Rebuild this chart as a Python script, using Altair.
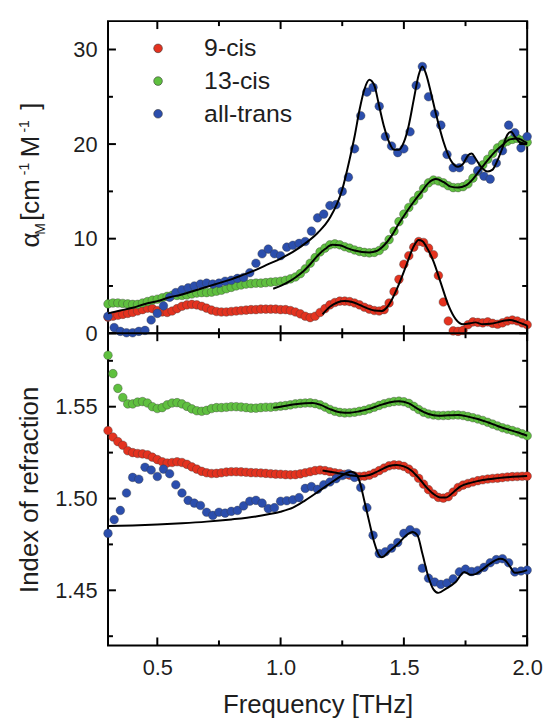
import altair as alt
import numpy as np
import pandas as pd

# sampling grids of the measured spectra (THz)
FREQ_FINE = np.round(np.arange(0.30, 2.0001, 0.02), 3)     # 9-cis, 13-cis
FREQ_COARSE = np.round(np.arange(0.30, 2.0001, 0.025), 3)  # all-trans

SERIES = ["9-cis", "13-cis", "all-trans"]
COLORS = ["#e4321f", "#5fc03f", "#2b4ead"]

# molar absorption coefficient [cm^-1 M^-1]
ABS_9CIS = [1.7, 1.8, 1.9, 2.0, 2.1, 2.2, 2.35, 2.5, 2.65, 2.6,
            2.4, 2.25, 2.2, 2.35, 2.6, 2.85, 3.0, 3.05, 3.0, 2.85,
            2.65, 2.45, 2.3, 2.25, 2.25, 2.3, 2.35, 2.4, 2.45, 2.5,
            2.5, 2.55, 2.55, 2.55, 2.55, 2.5, 2.5, 2.4, 2.25, 2.05,
            1.8, 1.65, 1.8, 2.2, 2.6, 3.0, 3.25, 3.4, 3.4, 3.35,
            3.2, 3.0, 2.75, 2.55, 2.4, 2.35, 2.5, 3.2, 4.4, 5.7,
            7.3, 8.2, 9.1, 9.7, 9.6, 9.0, 8.3, 6.1, 3.3, 1.3,
            0.25, 0.2, 0.3, 0.9, 1.2, 1.15, 1.1, 1.2, 1.05, 0.95,
            1.1, 1.3, 1.4, 1.3, 1.1, 0.9]
ABS_13CIS = [3.1, 3.2, 3.2, 3.15, 3.1, 3.05, 3.05, 3.2, 3.35, 3.5,
             3.6, 3.75, 3.9, 4.0, 4.0, 4.0, 4.05, 4.15, 4.25, 4.3,
             4.3, 4.35, 4.45, 4.55, 4.7, 4.85, 5.0, 5.1, 5.2, 5.25,
             5.3, 5.3, 5.35, 5.4, 5.45, 5.5, 5.6, 5.75, 5.95, 6.3,
             6.8, 7.4, 8.0, 8.6, 9.0, 9.35, 9.45, 9.35, 9.15, 9.0,
             8.8, 8.65, 8.55, 8.5, 8.55, 8.75, 9.2, 9.9, 10.8, 11.8,
             12.6, 13.3, 14.0, 14.6, 15.3, 15.9, 16.2, 16.1, 15.9, 15.6,
             15.4, 15.4, 15.5, 15.8, 16.4, 17.1, 17.8, 18.4, 19.0, 19.6,
             20.0, 20.3, 20.5, 20.6, 20.4, 20.2]
ABS_ALLTRANS = [1.8, 0.6, 0.2, 0.05, 0.05, 0.2, 0.3, 1.4, 2.1, 2.9,
                3.8, 4.3, 4.6, 4.8, 5.0, 5.2, 5.3, 5.2, 5.3, 5.5,
                5.6, 5.8, 5.9, 6.4, 7.4, 8.4, 8.9, 8.4, 8.2, 9.1,
                9.3, 9.5, 9.7, 10.8, 12.2, 12.6, 13.5, 13.6, 15.0, 16.5,
                19.5, 23.0, 25.5, 26.0, 24.0, 20.8, 19.8, 19.1, 19.5, 21.3,
                26.2, 28.2, 25.0, 23.2, 22.0, 18.9, 17.5, 17.5, 18.5, 18.3,
                17.2, 16.6, 16.3, 18.0, 19.3, 22.0, 21.2, 19.6, 20.8]

# index of refraction
IDX_9CIS = [1.537, 1.5335, 1.531, 1.529, 1.526, 1.525, 1.5245, 1.5243, 1.5238, 1.5225,
            1.5212, 1.5200, 1.5193, 1.5196, 1.5200, 1.5196, 1.5186, 1.5172, 1.5160, 1.5148,
            1.5140, 1.5136, 1.5137, 1.5140, 1.5144, 1.5146, 1.5146, 1.5145, 1.5143, 1.5141,
            1.5140, 1.5139, 1.5137, 1.5135, 1.5133, 1.5132, 1.5130, 1.5129, 1.5130, 1.5134,
            1.5140, 1.5146, 1.5152, 1.5155, 1.5152, 1.5146, 1.5140, 1.5136, 1.5131, 1.5127,
            1.5122, 1.5120, 1.5122, 1.5127, 1.5138, 1.5152, 1.5166, 1.5178, 1.5183, 1.5182,
            1.5175, 1.5160, 1.5140, 1.5110, 1.5078, 1.5048, 1.5024, 1.5006, 1.5002, 1.5010,
            1.5035, 1.5060, 1.5073, 1.5082, 1.5090, 1.5097, 1.5102, 1.5106, 1.5109, 1.5111,
            1.5114, 1.5117, 1.5119, 1.5120, 1.5121, 1.5122]
IDX_13CIS = [1.578, 1.568, 1.560, 1.555, 1.5515, 1.5515, 1.5525, 1.5528, 1.552, 1.550,
             1.549, 1.5495, 1.551, 1.552, 1.5522, 1.5515, 1.5502, 1.5488, 1.5478, 1.5475,
             1.548, 1.549, 1.5495, 1.5495, 1.5497, 1.550, 1.550, 1.5498, 1.5495, 1.5492,
             1.5492, 1.5495, 1.5497, 1.5497, 1.5500, 1.5503, 1.5506, 1.551, 1.5515, 1.5518,
             1.552, 1.5521, 1.5517, 1.551, 1.5498, 1.5485, 1.5475, 1.5469, 1.5466, 1.5467,
             1.547, 1.5475, 1.548, 1.5488, 1.5497, 1.5507, 1.5516, 1.5523, 1.5528, 1.5530,
             1.5527, 1.5518, 1.5502, 1.5485, 1.5470, 1.5460, 1.5455, 1.5452, 1.5452, 1.5453,
             1.5455, 1.5455, 1.5452, 1.5446, 1.5440, 1.5433, 1.5425, 1.5415, 1.5405, 1.5395,
             1.5385, 1.5378, 1.5370, 1.5362, 1.5352, 1.5342]
IDX_ALLTRANS = [1.481, 1.4885, 1.4935, 1.5030, 1.5115, 1.5105, 1.5170, 1.5155, 1.5120, 1.5160,
                1.5135, 1.5075, 1.5030, 1.4990, 1.4975, 1.4962, 1.4925, 1.4908, 1.4925, 1.4920,
                1.4930, 1.4935, 1.4960, 1.4985, 1.4990, 1.4975, 1.4945, 1.4950, 1.4985, 1.4988,
                1.4993, 1.5005, 1.5055, 1.5065, 1.5050, 1.5075, 1.5090, 1.5108, 1.5125, 1.5135,
                1.5115, 1.5060, 1.4950, 1.4800, 1.4700, 1.4710, 1.4730, 1.4760, 1.4810, 1.4830,
                1.4815, 1.4620, 1.4566, 1.4545, 1.4532, 1.4540, 1.4562, 1.4600, 1.4615, 1.4602,
                1.4608, 1.4625, 1.4650, 1.4667, 1.4672, 1.4650, 1.4600, 1.4605, 1.4610]

# model fits (frequency, value)
FIT_ABS_9CIS_F = [1.17, 1.20, 1.23, 1.26, 1.29, 1.32, 1.35, 1.38, 1.41, 1.43,
                  1.45, 1.48, 1.51, 1.54, 1.56, 1.575, 1.59, 1.62, 1.65, 1.68,
                  1.71, 1.74, 1.77, 1.79, 1.82, 1.85, 1.88, 1.91, 1.93, 1.96, 2.00]
FIT_ABS_9CIS_V = [2.0, 2.8, 3.25, 3.4, 3.3, 3.0, 2.65, 2.4, 2.35, 2.7,
                  3.5, 5.2, 7.2, 9.2, 9.85, 9.75, 9.2, 7.6, 5.3, 3.0,
                  1.5, 0.95, 1.05, 1.15, 0.95, 1.0, 1.15, 1.35, 1.4, 1.2, 0.8]
FIT_ABS_13CIS_F = [0.97, 1.00, 1.03, 1.06, 1.09, 1.12, 1.15, 1.18, 1.21, 1.24,
                   1.27, 1.30, 1.33, 1.36, 1.39, 1.42, 1.45, 1.48, 1.51, 1.54,
                   1.57, 1.60, 1.63, 1.66, 1.69, 1.72, 1.75, 1.78, 1.81, 1.84,
                   1.87, 1.90, 1.93, 1.96, 1.98, 2.00]
FIT_ABS_13CIS_V = [4.7, 5.0, 5.4, 5.9, 6.5, 7.3, 8.2, 8.9, 9.35, 9.3,
                   9.0, 8.75, 8.6, 8.55, 8.7, 9.3, 10.3, 11.6, 12.8, 13.9,
                   14.9, 15.9, 16.3, 16.0, 15.5, 15.4, 15.6, 16.3, 17.3, 18.3,
                   19.2, 19.9, 20.5, 20.6, 20.4, 20.1]
FIT_ABS_ALLTRANS_F = [0.30, 0.35, 0.40, 0.45, 0.50, 0.55, 0.60, 0.65, 0.70, 0.75,
                      0.80, 0.85, 0.90, 0.95, 1.00, 1.05, 1.10, 1.15, 1.20, 1.25,
                      1.28, 1.30, 1.32, 1.34, 1.36, 1.38, 1.40, 1.42, 1.44, 1.46,
                      1.48, 1.50, 1.52, 1.54, 1.56, 1.575, 1.59, 1.61, 1.63, 1.66,
                      1.69, 1.72, 1.74, 1.76, 1.775, 1.79, 1.81, 1.84, 1.86, 1.88,
                      1.90, 1.92, 1.935, 1.95, 1.97, 2.00]
FIT_ABS_ALLTRANS_V = [2.1, 2.4, 2.7, 3.1, 3.4, 3.8, 4.1, 4.5, 4.9, 5.3,
                      5.7, 6.2, 6.7, 7.3, 7.9, 8.6, 9.5, 10.6, 12.2, 15.2,
                      18.4, 20.8, 23.6, 25.8, 26.8, 26.2, 24.0, 21.8, 20.2, 19.4,
                      19.4, 20.2, 22.0, 24.7, 27.3, 28.2, 27.4, 25.4, 23.2, 20.3,
                      18.3, 17.6, 17.9, 18.8, 19.0, 18.5, 17.7, 17.1, 17.3, 18.3,
                      19.6, 21.0, 21.3, 20.8, 20.2, 20.0]

FIT_IDX_9CIS_F = [1.17, 1.20, 1.24, 1.28, 1.32, 1.36, 1.40, 1.44, 1.47, 1.50,
                  1.53, 1.56, 1.59, 1.62, 1.65, 1.67, 1.70, 1.73, 1.77, 1.82,
                  1.88, 1.94, 2.00]
FIT_IDX_9CIS_V = [1.5153, 1.5146, 1.5136, 1.5127, 1.5121, 1.5128, 1.5152, 1.5177, 1.5183, 1.5175,
                  1.5153, 1.5112, 1.5063, 1.5025, 1.5005, 1.5005, 1.5033, 1.5066, 1.5085, 1.5101,
                  1.5111, 1.5118, 1.5122]
FIT_IDX_13CIS_F = [0.97, 1.00, 1.05, 1.10, 1.13, 1.16, 1.20, 1.24, 1.28, 1.32,
                   1.36, 1.40, 1.44, 1.48, 1.52, 1.56, 1.60, 1.64, 1.68, 1.72,
                   1.76, 1.80, 1.84, 1.88, 1.92, 1.96, 2.00]
FIT_IDX_13CIS_V = [1.5494, 1.5500, 1.5512, 1.5519, 1.5520, 1.5511, 1.5487, 1.5470, 1.5467, 1.5475,
                   1.5488, 1.5507, 1.5523, 1.5530, 1.5518, 1.5485, 1.5460, 1.5451, 1.5453, 1.5455,
                   1.5446, 1.5433, 1.5415, 1.5395, 1.5377, 1.5361, 1.5342]
FIT_IDX_ALLTRANS_F = [0.30, 0.40, 0.50, 0.60, 0.70, 0.80, 0.90, 0.95, 1.00, 1.05,
                      1.10, 1.15, 1.20, 1.24, 1.27, 1.285, 1.30, 1.32, 1.34, 1.36,
                      1.38, 1.40, 1.41, 1.44, 1.48, 1.51, 1.535, 1.555, 1.575, 1.60,
                      1.62, 1.64, 1.67, 1.71, 1.745, 1.77, 1.79, 1.81, 1.85, 1.89,
                      1.91, 1.93, 1.95, 1.97, 2.00]
FIT_IDX_ALLTRANS_V = [1.4850, 1.4853, 1.4858, 1.4865, 1.4874, 1.4886, 1.4902, 1.4914, 1.4928, 1.4950,
                      1.4990, 1.5035, 1.5082, 1.5118, 1.5140, 1.5146, 1.5140, 1.5095, 1.4985, 1.4870,
                      1.4760, 1.4690, 1.4680, 1.4712, 1.4758, 1.4800, 1.4818, 1.4800, 1.4700, 1.4570,
                      1.4505, 1.4486, 1.4508, 1.4545, 1.4600, 1.4585, 1.4588, 1.4605, 1.4645, 1.4672,
                      1.4665, 1.4630, 1.4595, 1.4598, 1.4610]

# axis ticks
X_MAJOR = [0.5, 1.0, 1.5, 2.0]
X_MINOR = [0.75, 1.25, 1.75]
ABS_MAJOR = [0, 10, 20, 30]
ABS_MINOR = [5, 15, 25]
IDX_MAJOR = [1.45, 1.50, 1.55]
IDX_MINOR = [1.425, 1.475, 1.525, 1.575]

X_DOMAIN = [0.30, 2.0]
ABS_DOMAIN = [0, 33]
IDX_DOMAIN = [1.42, 1.59]

W, H = 423, 315
FONT = "Liberation Sans"
INK = "#1e1e1e"
MAJOR_LEN, MINOR_LEN = 8, 5


def points_frame(freqs, values):
    parts = [pd.DataFrame({"f": fr, "v": vals, "series": name})
             for name, fr, vals in zip(SERIES, freqs, values)]
    return pd.concat(parts, ignore_index=True)


def fit_frame(pairs):
    parts = [pd.DataFrame({"f": fr, "v": vals, "series": name})
             for name, (fr, vals) in zip(SERIES, pairs)]
    return pd.concat(parts, ignore_index=True)


def panel(points, fits, x_enc, y_enc, y_major, y_minor, legend, extra=()):
    color = alt.Color("series:N", scale=alt.Scale(domain=SERIES, range=COLORS),
                      legend=legend)
    size = alt.Size("series:N", scale=alt.Scale(domain=SERIES, range=[76, 76, 96]),
                    legend=None)
    dots = alt.Chart(points).mark_circle(
        opacity=1, stroke="#3a3a3a", strokeWidth=0.7, strokeOpacity=0.55
    ).encode(x=x_enc, y=y_enc, color=color, size=size)
    lines = alt.Chart(fits).mark_line(
        color="black", strokeWidth=2, interpolate="monotone"
    ).encode(x=x_enc, y=y_enc, detail="series:N")

    layers = [dots, lines]
    # inward-pointing ticks on all four sides of the frame
    for vals, ln in ((X_MAJOR, MAJOR_LEN), (X_MINOR, MINOR_LEN)):
        r = alt.Chart(pd.DataFrame({"f": vals})).mark_rule(color="black", strokeWidth=2)
        layers.append(r.encode(x=x_enc, y=alt.value(0), y2=alt.value(ln)))
        layers.append(r.encode(x=x_enc, y=alt.value(H), y2=alt.value(H - ln)))
    for vals, ln in ((y_major, MAJOR_LEN), (y_minor, MINOR_LEN)):
        r = alt.Chart(pd.DataFrame({"v": vals})).mark_rule(color="black", strokeWidth=2)
        layers.append(r.encode(y=y_enc, x=alt.value(0), x2=alt.value(ln)))
        layers.append(r.encode(y=y_enc, x=alt.value(W), x2=alt.value(W - ln)))
    layers.extend(extra)
    return alt.layer(*layers).properties(width=W, height=H)


x_scale = alt.Scale(domain=X_DOMAIN, nice=False, zero=False)
label_style = dict(labelFont=FONT, labelFontSize=22, labelColor=INK, labelFlush=False,
                   ticks=False, domain=False, grid=False)

# upper panel: molar absorption
x_top = alt.X("f:Q", scale=x_scale, axis=None)
y_top = alt.Y("v:Q", scale=alt.Scale(domain=ABS_DOMAIN, nice=False, zero=False),
              axis=alt.Axis(values=ABS_MAJOR, labelPadding=11, title=None, **label_style))

# y title: alpha with subscript M and superscript exponents, set piece by piece
TITLE_PIECES = [("α", 26, -70, 228.5), ("M", 14, -64, 215.5), ("[cm", 26, -70, 201.5),
                ("-1", 14, -80, 155.5), ("M", 26, -70, 137.5), ("-1", 14, -80, 112.5),
                ("]", 26, -70, 89.5)]
title_marks = [
    alt.Chart(pd.DataFrame({"t": [txt]})).mark_text(
        angle=270, align="left", baseline="alphabetic", font=FONT, fontSize=fs, color=INK
    ).encode(text="t:N", x=alt.value(px), y=alt.value(py))
    for txt, fs, px, py in TITLE_PIECES
]

top = panel(
    points_frame([FREQ_FINE, FREQ_FINE, FREQ_COARSE], [ABS_9CIS, ABS_13CIS, ABS_ALLTRANS]),
    fit_frame([(FIT_ABS_9CIS_F, FIT_ABS_9CIS_V), (FIT_ABS_13CIS_F, FIT_ABS_13CIS_V),
               (FIT_ABS_ALLTRANS_F, FIT_ABS_ALLTRANS_V)]),
    x_top, y_top, ABS_MAJOR, ABS_MINOR,
    alt.Legend(orient="none", legendX=38, legendY=15, title=None, labelFont=FONT,
               labelFontSize=25, labelColor=INK, symbolType="circle", symbolSize=85,
               symbolStrokeColor="#3a3a3a", symbolStrokeWidth=0.6, rowPadding=7,
               labelOffset=34, padding=0),
    title_marks,
)

# lower panel: index of refraction
x_bot = alt.X("f:Q", scale=x_scale,
              axis=alt.Axis(values=X_MAJOR, format=".1f", labelPadding=12,
                            title="Frequency [THz]", titleFont=FONT, titleFontSize=26,
                            titleFontWeight="normal", titleColor=INK, titlePadding=14,
                            **label_style))
y_bot = alt.Y("v:Q", scale=alt.Scale(domain=IDX_DOMAIN, nice=False, zero=False),
              axis=alt.Axis(values=IDX_MAJOR, format=".2f", labelPadding=11,
                            title="Index of refraction", titleFont=FONT, titleFontSize=26,
                            titleFontWeight="normal", titleColor=INK, titlePadding=12,
                            **label_style))

bottom = panel(
    points_frame([FREQ_FINE, FREQ_FINE, FREQ_COARSE], [IDX_9CIS, IDX_13CIS, IDX_ALLTRANS]),
    fit_frame([(FIT_IDX_9CIS_F, FIT_IDX_9CIS_V), (FIT_IDX_13CIS_F, FIT_IDX_13CIS_V),
               (FIT_IDX_ALLTRANS_F, FIT_IDX_ALLTRANS_V)]),
    x_bot, y_bot, IDX_MAJOR, IDX_MINOR, None,
)

chart = alt.vconcat(top, bottom, spacing=0, bounds="flush").resolve_scale(
    color="independent", size="independent"
).properties(
    padding={"left": 16, "top": 16, "right": 0, "bottom": 0},
    background="white",
).configure_view(stroke="black", strokeWidth=2)

chart.save("out.html", embed_options={"renderer": "svg", "actions": False})
